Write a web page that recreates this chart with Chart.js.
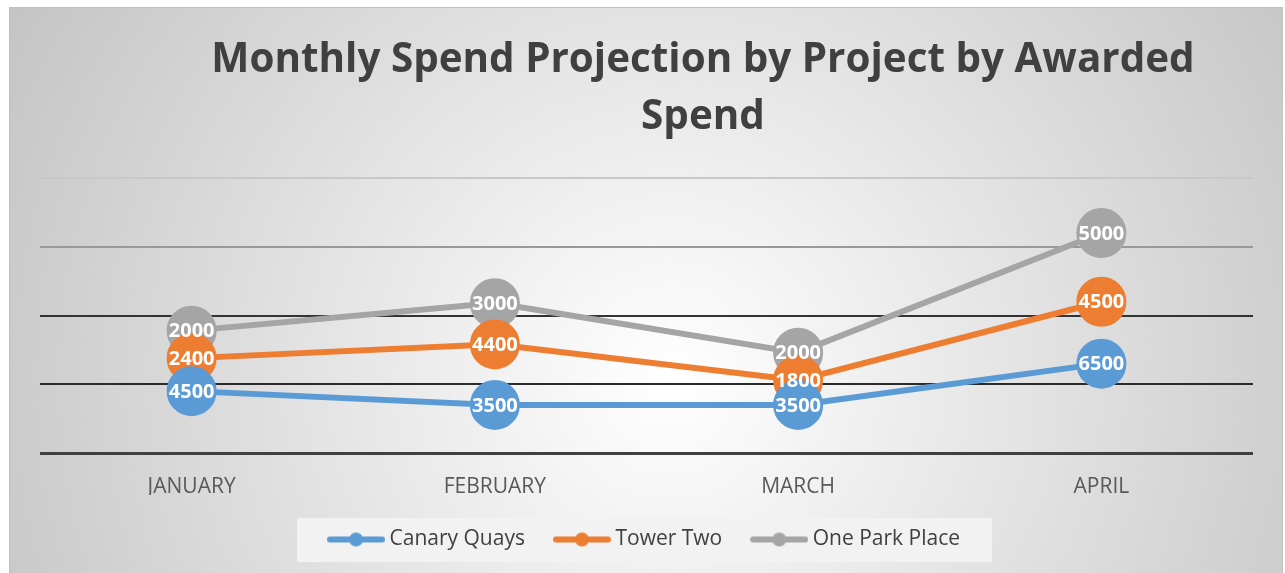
<!DOCTYPE html>
<html>
<head>
<meta charset="utf-8">
<script src="https://cdn.jsdelivr.net/npm/chart.js@4"></script>
<style>
  html, body { margin: 0; padding: 0; background: #fff; }
  #wrap { width: 1285px; height: 573px; }
</style>
</head>
<body>
<div id="wrap"><canvas id="spendChart" width="1285" height="573"></canvas></div>
<script>
const months = ['JANUARY', 'FEBRUARY', 'MARCH', 'APRIL'];
const canaryQuays = [4500, 3500, 3500, 6500];
const towerTwo = [2400, 4400, 1800, 4500];
const oneParkPlace = [2000, 3000, 2000, 5000];
const seriesNames = ['Canary Quays', 'Tower Two', 'One Park Place'];
const seriesColors = ['#5B9BD5', '#ED7D31', '#A5A5A5'];
const titleLines = ['Monthly Spend Projection by Project by Awarded', 'Spend'];

// colours of the horizontal gridlines, bottom to top
const gridColors = ['#404040', '#2a2a2a', '#333333', '#999999', '#c8c8c8'];

function legendIcon(color) {
    const c = document.createElement('canvas');
    c.width = 58;
    c.height = 16;
    const g = c.getContext('2d');
    g.strokeStyle = color;
    g.lineWidth = 6;
    g.lineCap = 'round';
    g.beginPath();
    g.moveTo(3, 8);
    g.lineTo(55, 8);
    g.stroke();
    g.fillStyle = color;
    g.beginPath();
    g.arc(29, 8, 7, 0, Math.PI * 2);
    g.fill();
    return c;
}

const panelBackground = {
    id: 'panelBackground',
    beforeDraw(chart) {
        const ctx = chart.ctx;
        ctx.save();
        ctx.fillStyle = '#ffffff';
        ctx.fillRect(0, 0, chart.width, chart.height);
        const grad = ctx.createRadialGradient(670, 380, 0, 670, 380, 760);
        grad.addColorStop(0, '#ffffff');
        grad.addColorStop(1, '#c4c4c4');
        ctx.fillStyle = grad;
        ctx.fillRect(9, 7, 1274, 566);
        ctx.strokeStyle = '#c0c0c0';
        ctx.lineWidth = 1;
        ctx.strokeRect(9.5, 7.5, 1273, 566);

        // legend box
        const boxes = chart.legend.legendHitBoxes;
        if (boxes && boxes.length) {
            const first = boxes[0];
            const last = boxes[boxes.length - 1];
            ctx.fillStyle = '#f2f2f2';
            ctx.fillRect(first.left - 36, first.top - 11, last.left + last.width - first.left + 68, first.height + 23);
        }

        // title
        ctx.fillStyle = '#404040';
        ctx.font = 'bold 40.4px "Open Sans"';
        ctx.textAlign = 'center';
        ctx.textBaseline = 'middle';
        ctx.fillText(titleLines[0], 703, 60);
        ctx.fillText(titleLines[1], 703, 117);
        ctx.restore();
    }
};

const valueLabels = {
    id: 'valueLabels',
    afterDatasetsDraw(chart) {
        const ctx = chart.ctx;
        ctx.save();
        ctx.fillStyle = '#ffffff';
        ctx.font = 'bold 20px "Open Sans"';
        ctx.textAlign = 'center';
        ctx.textBaseline = 'middle';
        chart.data.datasets.forEach((ds, i) => {
            const meta = chart.getDatasetMeta(i);
            meta.data.forEach((pt, j) => {
                ctx.fillText(String(ds.data[j]), pt.x, pt.y + 1);
            });
        });
        ctx.restore();
    }
};

const seriesData = [canaryQuays, towerTwo, oneParkPlace];

const datasets = seriesNames.map((name, i) => ({
    label: name,
    data: seriesData[i],
    borderColor: seriesColors[i],
    backgroundColor: seriesColors[i],
    pointBackgroundColor: seriesColors[i],
    pointBorderColor: seriesColors[i],
    borderWidth: 6,
    pointRadius: 22,
    pointHoverRadius: 22,
    tension: 0,
    fill: false
}));

const ctx = document.getElementById('spendChart').getContext('2d');

new Chart(ctx, {
    type: 'line',
    data: { labels: months, datasets: datasets },
    plugins: [panelBackground, valueLabels],
    options: {
        responsive: false,
        animation: false,
        events: [],
        layout: { padding: { top: 178, left: 40, right: 32, bottom: 13 } },
        scales: {
            x: {
                offset: true,
                grid: { display: false, drawTicks: false },
                border: { display: false },
                ticks: {
                    padding: 21,
                    color: '#595959',
                    font: { family: '"Open Sans"', size: 21 }
                },
                afterFit(scale) { scale.height = 42; }
            },
            y: {
                stacked: true,
                min: 0,
                max: 20000,
                ticks: { display: false, stepSize: 5000 },
                border: { display: false },
                grid: {
                    drawTicks: false,
                    color: c => gridColors[c.index] || '#999',
                    lineWidth: c => (c.index === 0 ? 3 : 2)
                },
                afterFit(scale) { scale.width = 0; }
            }
        },
        plugins: {
            title: { display: false },
            tooltip: { enabled: false },
            legend: {
                display: true,
                position: 'bottom',
                labels: {
                    usePointStyle: true,
                    pointStyleWidth: 46,
                    padding: 34,
                    color: '#404040',
                    font: { family: '"Open Sans"', size: 21 },
                    generateLabels(chart) {
                        const items = Chart.defaults.plugins.legend.labels.generateLabels(chart);
                        items.forEach((it, i) => { it.pointStyle = legendIcon(seriesColors[i]); });
                        return items;
                    }
                }
            }
        }
    }
});
</script>
</body>
</html>
